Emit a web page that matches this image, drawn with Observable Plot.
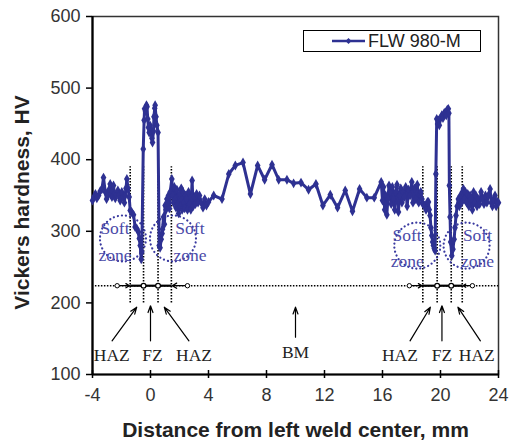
<!DOCTYPE html>
<html>
<head>
<meta charset="utf-8">
<script src="https://cdn.jsdelivr.net/npm/d3@7"></script>
<script src="https://cdn.jsdelivr.net/npm/@observablehq/plot@0.6"></script>
<style>
  html, body { margin: 0; padding: 0; background: #fff; }
  #wrap { position: relative; width: 509px; height: 443px; }
  #legend { position: absolute; left: 303px; top: 30px; width: 178px; height: 22px;
    border: 1px solid #000; background: #fff; box-sizing: border-box;
    font-family: Arial, "Liberation Sans", sans-serif; font-size: 18px; color: #222;
    display: flex; align-items: center; }
  #legend svg { margin-left: 28px; margin-right: 2px; }
</style>
</head>
<body>
<div id="wrap"></div>
<script>
// ---- data: FLW 980-M hardness profile ----
const distance = [
  -4.0,-3.9,-3.8,-3.7,-3.58,-3.47,-3.35,-3.24,-3.12,-3.03,-2.94,-2.86,-2.78,-2.72,-2.66,-2.6,-2.55,-2.49,-2.43,-2.35,
  -2.25,-2.17,-2.09,-1.98,-1.88,-1.8,-1.75,-1.69,-1.63,-1.55,-1.47,-1.4,-1.3,-1.17,-1.06,-0.95,-0.83,-0.77,-0.71,-0.64,
  -0.6,-0.5,-0.44,-0.41,-0.35,-0.28,-0.24,-0.19,-0.14,-0.09,-0.03,0.03,0.1,0.14,0.2,0.24,0.29,0.32,0.38,0.44,
  0.52,0.6,0.66,0.74,0.8,0.83,0.9,0.96,1.01,1.07,1.13,1.18,1.24,1.3,1.36,1.47,1.53,1.58,1.64,1.7,
  1.76,1.82,1.88,1.94,2.0,2.06,2.12,2.18,2.24,2.3,2.36,2.42,2.48,2.55,2.62,2.7,2.78,2.87,2.94,3.02,
  3.1,3.18,3.28,3.38,3.5,3.62,3.74,3.86,4.0,4.36,4.93,5.4,5.85,6.38,6.89,7.39,7.87,8.38,8.84,9.41,
  9.87,10.38,10.9,11.41,11.89,12.4,12.9,13.43,13.93,14.42,14.92,15.43,15.91,16.0,16.07,16.15,16.22,16.3,16.37,16.45,
  16.53,16.6,16.68,16.76,16.84,16.92,17.0,17.1,17.18,17.26,17.34,17.42,17.5,17.6,17.7,17.8,17.9,18.02,18.1,18.2,
  18.3,18.4,18.5,18.58,18.64,18.72,18.78,18.9,19.0,19.1,19.17,19.22,19.28,19.34,19.4,19.46,19.51,19.57,19.63,19.68,
  19.74,19.8,19.86,19.92,20.0,20.09,20.17,20.25,20.32,20.4,20.47,20.54,20.58,20.61,20.66,20.7,20.78,20.86,20.94,21.0,
  21.07,21.15,21.23,21.3,21.38,21.45,21.52,21.58,21.65,21.72,21.8,21.88,21.96,22.04,22.12,22.2,22.28,22.36,22.44,22.52,
  22.6,22.7,22.8,22.9,23.0,23.1,23.2,23.3,23.42,23.5,23.58,23.66,23.76,23.84,23.92,24.0
];
const hardness = [
  343,348,352,346,350,356,359,375,355,345,350,358,366,352,348,357,364,352,346,351,
  357,350,343,355,348,340,350,360,373,360,348,329,327,323,306,304,299,290,280,261,
  271,415,455,471,468,476,474,457,445,438,448,440,430,424,440,460,472,476,460,448,
  438,280,277,289,297,303,320,310,336,330,345,340,350,332,355,373,350,340,362,345,
  333,358,338,325,352,335,360,330,355,340,332,350,345,330,355,338,330,371,335,348,
  338,352,340,350,340,333,345,336,341,350,345,380,392,396,352,392,372,393,372,372,
  367,368,358,366,336,351,333,357,328,359,347,347,369,343,362,330,350,323,345,364,
  355,338,362,345,330,355,365,327,350,360,340,355,348,362,335,358,350,369,340,360,
  345,365,340,352,355,345,338,336,330,341,341,330,322,305,294,285,280,276,273,380,
  457,450,455,448,458,462,458,465,466,462,470,471,465,364,320,285,266,275,289,305,
  322,335,345,335,350,340,355,359,345,355,340,352,335,350,345,330,355,340,350,335,
  345,338,355,345,338,350,340,350,359,340,335,345,350,335,341,340
];
const seriesName = "FLW 980-M";

// ---- axes ----
const xTicks = [-4, 0, 4, 8, 12, 16, 20, 24];
const yTicks = [100, 200, 300, 400, 500, 600];
const xTitle = "Distance from left weld center, mm";
const yTitle = "Vickers hardness, HV";

// ---- annotations ----
const zoneBounds = [-1.4, -0.48, 0.52, 1.44, 18.78, 19.77, 20.74, 21.5];
const fzBounds = [-0.48, 0.52, 19.77, 20.74];
const boundSpan = [200, 390];
const dimLevel = 224;
const dimRange = [-3.8, 24];
const dimSegments = [[-1.4, -0.48], [-0.48, 0.52], [0.52, 1.44], [18.78, 19.77], [19.77, 20.74], [20.74, 21.5]];
const dimOuter = [[-2.3, -1.45], [2.55, 1.5], [17.85, 18.73], [22.2, 21.55]];
const zoneLabels = [
  {x: -2.67, y: 126, t: "HAZ"}, {x: 0.14, y: 126, t: "FZ"}, {x: 3.0, y: 126, t: "HAZ"},
  {x: 10.0, y: 131, t: "BM"},
  {x: 17.2, y: 126, t: "HAZ"}, {x: 20.1, y: 126, t: "FZ"}, {x: 22.5, y: 126, t: "HAZ"}
];
const pointerArrows = [
  {x1: -2.65, y1: 147, x2: -0.95, y2: 194}, {x1: 0, y1: 147, x2: 0, y2: 196},
  {x1: 2.65, y1: 147, x2: 0.95, y2: 194}, {x1: 10, y1: 152, x2: 10, y2: 194},
  {x1: 17.9, y1: 147, x2: 19.3, y2: 194}, {x1: 20.1, y1: 147, x2: 20.1, y2: 196},
  {x1: 22.75, y1: 147, x2: 21.2, y2: 194}
];
const softCircles = [{x: -1.9, y: 290}, {x: 1.55, y: 290}, {x: 18.4, y: 280}, {x: 21.8, y: 280}];
const softLabels = [{x: -2.45, y: 289}, {x: 2.72, y: 289}, {x: 17.7, y: 280}, {x: 22.55, y: 280}];

const data = distance.map((d, i) => ({d, h: hardness[i]}));
const blue = "#2e3192";
const serif = "'Times New Roman', 'Liberation Serif', serif";

const chart = Plot.plot({
  width: 509, height: 443,
  marginLeft: 92, marginRight: 11, marginTop: 16, marginBottom: 69,
  x: {domain: [-4, 24]},
  y: {domain: [100, 600]},
  style: {fontFamily: "Arial, 'Liberation Sans', sans-serif", fontSize: "18px", background: "#fff", color: "#333"},
  marks: [
    Plot.frame({stroke: "#333", strokeWidth: 1.5}),
    Plot.ruleX([-4], {stroke: "#000", strokeWidth: 2.2}),
    Plot.ruleY([100], {stroke: "#000", strokeWidth: 2.2}),
    Plot.axisY(yTicks, {tickSize: 6, tickPadding: 6, label: null, stroke: "#000", strokeWidth: 1.5, fill: "#333", fontSize: 18}),
    Plot.axisX(xTicks, {tickSize: 8, dy: -4, tickPadding: 10, label: null, stroke: "#000", strokeWidth: 1.5, fill: "#333", fontSize: 18, tickFormat: d => String(d)}),
    Plot.text([yTitle], {frameAnchor: "left", textAnchor: "middle", lineAnchor: "middle", dx: -70, dy: 7, rotate: -90, fontWeight: "bold", fontSize: 21, fill: "#222"}),
    Plot.text([xTitle], {frameAnchor: "bottom", textAnchor: "middle", lineAnchor: "middle", dy: 56, fontWeight: "bold", fontSize: 21, fill: "#222"}),
    // zone boundaries
    Plot.ruleX(zoneBounds, {y1: boundSpan[0], y2: boundSpan[1], stroke: "#000", strokeWidth: 1.6, strokeDasharray: "1.5,1.5"}),
    Plot.ruleY([dimLevel], {x1: dimRange[0], x2: dimRange[1], stroke: "#000", strokeWidth: 1.4, strokeDasharray: "1.5,1.5"}),
    Plot.link(dimSegments, {x1: d => d[0], x2: d => d[1], y1: dimLevel, y2: dimLevel, stroke: "#000", strokeWidth: 2.2}),
    Plot.arrow(dimOuter, {x1: d => d[0], x2: d => d[1], y1: dimLevel, y2: dimLevel, stroke: "#000", strokeWidth: 1.3, headLength: 7}),
    Plot.dot(dimOuter, {x: d => d[0], y: dimLevel, r: 2.2, fill: "#fff", stroke: "#000", strokeWidth: 1}),
    Plot.dot(fzBounds, {x: d => d, y: dimLevel, r: 2.4, fill: "#fff", stroke: "#000", strokeWidth: 1.2}),
    // soft zones
    Plot.dot(softCircles, {x: "x", y: "y", r: 23, fill: "none", stroke: "#3a3aa0", strokeWidth: 2.2, strokeDasharray: "0.1,4", strokeLinecap: "round"}),
    Plot.text(softLabels, {x: "x", y: "y", text: () => "Soft\nzone", lineHeight: 1.5, fontFamily: serif, fontSize: 17.5, fill: "#4a4aa8"}),
    // data
    Plot.line(data, {x: "d", y: "h", stroke: blue, strokeWidth: 3, strokeLinejoin: "round"}),
    Plot.dot(data, {x: "d", y: "h", symbol: "diamond", r: 3, fill: blue}),
    // labels and pointers
    Plot.arrow(pointerArrows, {x1: "x1", y1: "y1", x2: "x2", y2: "y2", stroke: "#000", strokeWidth: 1.2, headLength: 9, headAngle: 40}),
    Plot.text(zoneLabels, {x: "x", y: "y", text: "t", fontFamily: serif, fontSize: 17.5, fill: "#222"})
  ]
});

const wrap = document.getElementById("wrap");
wrap.appendChild(chart);
const legend = document.createElement("div");
legend.id = "legend";
legend.innerHTML = `<svg width="34" height="10"><line x1="0" y1="5" x2="33" y2="5" stroke="${blue}" stroke-width="2.6"/><path d="M16.5,2 L19.5,5 L16.5,8 L13.5,5 Z" fill="${blue}"/></svg><span>${seriesName}</span>`;
wrap.appendChild(legend);
</script>
</body>
</html>
